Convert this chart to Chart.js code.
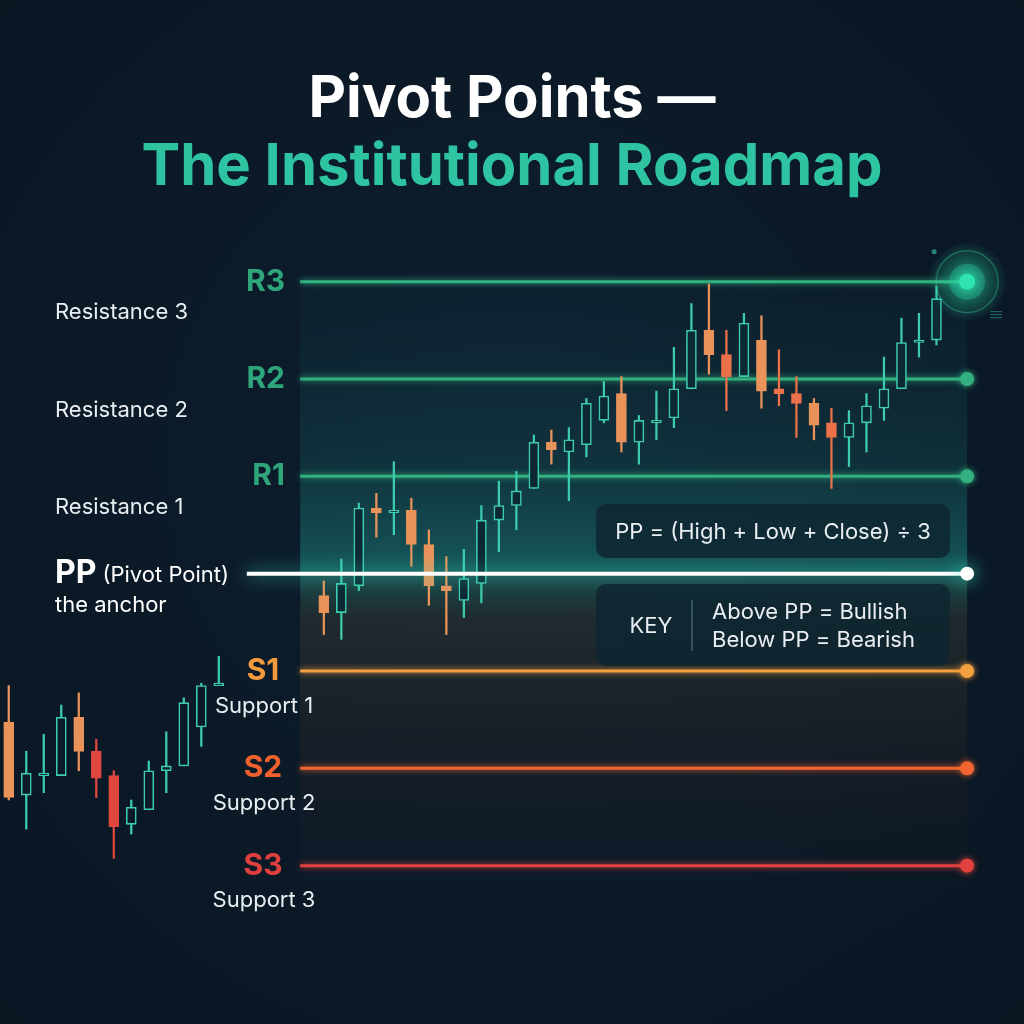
<!DOCTYPE html>
<html>
<head>
<meta charset="utf-8">
<script src="https://cdn.jsdelivr.net/npm/chart.js@4.4.1/dist/chart.umd.min.js"></script>
<style>
  html, body { margin: 0; padding: 0; background: #0b1828; }
</style>
</head>
<body>
<canvas id="pivotChart" width="1024" height="1024"></canvas>
<script>
// pivot levels
const levelNames = ['R3', 'R2', 'R1', 'PP', 'S1', 'S2', 'S3'];
const levelValues = [112, 108, 104, 100, 96, 92, 88];
const levelCaptions = ['Resistance 3', 'Resistance 2', 'Resistance 1', '(Pivot Point)', 'Support 1', 'Support 2', 'Support 3'];
const levelColors = ['#33b07f', '#33b07f', '#33b07f', '#ffffff', '#f2a03e', '#f26530', '#e2423f'];
const labelColors = ['#2ea57a', '#2ea57a', '#2ea57a', '#ffffff', '#f29a3c', '#f0612e', '#de3f3d'];

// where the level lines run (candle slots)
const lineFrom = 16.65;
const pivotFrom = 13.6;
const lineTo = 54.75;

// candles: slot, open, high, low, close, tone
const candleSlot = [0, 1, 2, 3, 4, 5, 6, 7, 8, 9, 10, 11, 12,
  18, 19, 20, 21, 22, 23, 24, 25, 26, 27, 28, 29, 30, 31, 32, 33, 34, 35,
  36, 37, 38, 39, 40, 41, 42, 43, 44, 45, 46, 47, 48, 49, 50, 51, 52, 53];
const candleOpen = [93.9, 90.9, 91.7, 91.7, 94.1, 92.7, 91.7, 89.7, 90.3, 91.9, 92.1, 93.7, 95.4,
  99.1, 98.4, 99.5, 102.7, 102.5, 102.6, 101.2, 99.5, 98.9, 99.6, 102.2, 102.8, 103.5, 105.4, 105.0, 105.3,
  106.3, 107.4, 105.4, 106.2, 106.4, 107.6, 110.0, 109.0, 108.1, 109.6, 107.6, 107.4, 107.0, 106.2,
  105.6, 106.2, 106.8, 107.6, 109.5, 109.6];
const candleHigh = [95.4, 92.7, 93.4, 94.6, 95.1, 93.2, 91.9, 90.7, 92.3, 93.5, 94.9, 95.5, 96.6,
  99.7, 100.6, 102.9, 103.3, 104.6, 103.1, 101.8, 100.7, 101.0, 102.8, 103.8, 104.2, 105.7, 105.9, 106.0, 107.2,
  107.9, 108.1, 106.5, 107.5, 109.3, 111.1, 111.9, 110.0, 110.7, 110.6, 109.2, 108.1, 107.2, 106.8,
  106.7, 107.4, 108.9, 110.5, 110.7, 111.8];
const candleLow = [90.7, 89.5, 91.0, 91.7, 91.9, 90.8, 88.3, 89.3, 90.3, 91.0, 92.1, 92.9, 95.4,
  97.5, 97.3, 99.3, 101.5, 101.6, 100.3, 98.7, 97.5, 98.2, 98.8, 100.9, 101.8, 103.5, 104.5, 103.0, 104.8,
  106.2, 105.0, 104.5, 105.5, 106.0, 107.6, 108.2, 106.7, 108.1, 106.8, 106.9, 105.6, 105.5, 103.5,
  104.4, 105.0, 106.3, 107.6, 108.9, 109.4];
const candleClose = [90.8, 91.8, 91.8, 94.1, 92.7, 91.6, 89.6, 90.4, 91.9, 92.1, 94.7, 95.4, 95.5,
  98.4, 99.6, 102.7, 102.5, 102.6, 101.2, 99.5, 99.3, 99.8, 102.2, 102.8, 103.4, 105.4, 105.1, 105.5, 107.0,
  107.3, 105.4, 106.3, 106.3, 107.6, 110.0, 109.0, 108.1, 110.3, 107.5, 107.4, 107.0, 106.1, 105.6,
  106.2, 106.9, 107.6, 109.5, 109.6, 111.3];
const candleTone = ['amber', 'bull', 'bull', 'bull', 'amber', 'red', 'red', 'bull', 'bull', 'bull', 'bull', 'bull', 'bull',
  'amber', 'bull', 'bull', 'amber', 'bull', 'amber', 'amber', 'amber', 'bull', 'bull', 'bull', 'bull', 'bull', 'amber', 'bull', 'bull',
  'bull', 'amber', 'bull', 'bull', 'bull', 'bull', 'amber', 'coral', 'bull', 'amber', 'coral', 'coral', 'amber', 'coral',
  'bull', 'bull', 'bull', 'bull', 'bull', 'bull'];

const toneColor = { bull: '#3ccbad', amber: '#e9935a', coral: '#ea7149', red: '#e0473f' };

const bodyFill = candleTone.map((t, i) => t === 'bull' ? (candleSlot[i] < 14 ? '#0b1a2a' : '#0c2832') : toneColor[t]);
const toneOf = candleTone.map(t => toneColor[t]);

const pivotIndex = levelNames.indexOf('PP');

const levelSets = levelValues.map((v, i) => ({
  type: 'line',
  label: levelNames[i],
  data: [{ x: i === pivotIndex ? pivotFrom : lineFrom, y: v }, { x: lineTo, y: v }],
  borderColor: levelColors[i],
  borderWidth: i === pivotIndex ? 4 : 3,
  pointRadius: [0, i === 0 ? 0 : 7],
  pointBackgroundColor: i === pivotIndex ? '#ffffff' : levelColors[i],
  pointBorderWidth: 0,
  glow: i === pivotIndex ? 'rgba(60,230,200,0.9)' : levelColors[i],
  glowBlur: i === pivotIndex ? 18 : 6,
  order: i === pivotIndex ? 0 : 5
}));

const backdrop = {
  id: 'backdrop',
  beforeDraw(chart) {
    const { ctx, scales: { x, y } } = chart;
    ctx.save();
    const bg = ctx.createRadialGradient(512, 420, 50, 512, 512, 760);
    bg.addColorStop(0, '#0e1e2e');
    bg.addColorStop(1, '#091521');
    ctx.fillStyle = bg;
    ctx.fillRect(0, 0, chart.width, chart.height);

    const x0 = x.getPixelForValue(lineFrom);
    const x1 = x.getPixelForValue(lineTo);
    const yTop = y.getPixelForValue(levelValues[0]);
    const yPP = y.getPixelForValue(levelValues[pivotIndex]);
    const yBot = y.getPixelForValue(levelValues[6]) + 80;
    let g = ctx.createLinearGradient(0, yTop, 0, yPP);
    g.addColorStop(0, 'rgba(18,60,70,0.12)');
    g.addColorStop(0.6, 'rgba(20,90,92,0.33)');
    g.addColorStop(1, 'rgba(30,140,130,0.55)');
    ctx.fillStyle = g;
    ctx.fillRect(x0, yTop, x1 - x0, yPP - yTop);
    g = ctx.createLinearGradient(0, yPP, 0, yBot);
    g.addColorStop(0, 'rgba(35,110,100,0.55)');
    g.addColorStop(0.12, 'rgba(45,52,50,0.6)');
    g.addColorStop(0.45, 'rgba(36,34,38,0.5)');
    g.addColorStop(1, 'rgba(12,24,38,0)');
    ctx.fillStyle = g;
    ctx.fillRect(x0, yPP, x1 - x0, yBot - yPP);
    ctx.restore();
  },
  beforeDatasetDraw(chart, args) {
    const ds = chart.data.datasets[args.index];
    if (!ds.glow) return;
    chart.ctx.save();
    chart.ctx.shadowColor = ds.glow;
    chart.ctx.shadowBlur = ds.glowBlur;
  },
  afterDatasetDraw(chart, args) {
    if (chart.data.datasets[args.index].glow) chart.ctx.restore();
  }
};

function roundBox(ctx, x, y, w, h, r) {
  ctx.beginPath();
  ctx.moveTo(x + r, y);
  ctx.arcTo(x + w, y, x + w, y + h, r);
  ctx.arcTo(x + w, y + h, x, y + h, r);
  ctx.arcTo(x, y + h, x, y, r);
  ctx.arcTo(x, y, x + w, y, r);
  ctx.closePath();
}

const annotations = {
  id: 'annotations',
  afterDraw(chart) {
    const { ctx, scales: { x, y } } = chart;
    const font = '"Inter", "Noto Sans", sans-serif';
    ctx.save();
    ctx.textBaseline = 'middle';

    // title
    ctx.textAlign = 'center';
    ctx.font = '700 58px ' + font;
    ctx.fillStyle = '#ffffff';
    ctx.fillText('Pivot Points \u2014', 512, 100);
    ctx.fillStyle = '#2ec4a2';
    ctx.fillText('The Institutional Roadmap', 512, 168);

    // R3 halo
    const hx = x.getPixelForValue(lineTo);
    const hy = y.getPixelForValue(levelValues[0]);
    const halo = ctx.createRadialGradient(hx, hy, 4, hx, hy, 40);
    halo.addColorStop(0, 'rgba(40,230,170,0.55)');
    halo.addColorStop(1, 'rgba(40,230,170,0)');
    ctx.fillStyle = halo;
    ctx.beginPath(); ctx.arc(hx, hy, 40, 0, Math.PI * 2); ctx.fill();
    ctx.strokeStyle = 'rgba(60,210,170,0.35)';
    ctx.lineWidth = 1.5;
    ctx.beginPath(); ctx.arc(hx, hy, 31, 0, Math.PI * 2); ctx.stroke();
    ctx.fillStyle = 'rgba(40,200,160,0.35)';
    ctx.beginPath(); ctx.arc(hx, hy, 18, 0, Math.PI * 2); ctx.fill();
    ctx.shadowColor = '#2ee6b0'; ctx.shadowBlur = 12;
    ctx.fillStyle = '#2ee3ae';
    ctx.beginPath(); ctx.arc(hx, hy, 8, 0, Math.PI * 2); ctx.fill();
    ctx.shadowBlur = 0;
    ctx.fillStyle = 'rgba(60,210,170,0.6)';
    ctx.beginPath(); ctx.arc(hx - 33, hy - 30, 2.5, 0, Math.PI * 2); ctx.fill();
    ctx.strokeStyle = 'rgba(60,210,170,0.5)';
    ctx.lineWidth = 1;
    for (let k = 0; k < 3; k++) {
      ctx.beginPath(); ctx.moveTo(hx + 23, hy + 30 + k * 3); ctx.lineTo(hx + 35, hy + 30 + k * 3); ctx.stroke();
    }

    // level labels
    levelNames.forEach((name, i) => {
      const ly = y.getPixelForValue(levelValues[i]);
      if (name.startsWith('R')) {
        ctx.textAlign = 'right';
        ctx.font = '700 30px ' + font;
        ctx.fillStyle = labelColors[i];
        ctx.fillText(name, 285, ly);
        ctx.textAlign = 'left';
        ctx.font = '400 22px ' + font;
        ctx.fillStyle = '#e9eef2';
        ctx.fillText(levelCaptions[i], 55, ly + 31);
      } else if (name === 'PP') {
        ctx.textAlign = 'left';
        ctx.font = '700 32px ' + font;
        ctx.fillStyle = '#ffffff';
        ctx.fillText(name, 55, ly);
        const w = ctx.measureText(name).width;
        ctx.font = '400 22px ' + font;
        ctx.fillText(levelCaptions[i], 55 + w + 6, ly + 2);
        ctx.fillText('the anchor', 55, ly + 32);
      } else {
        ctx.textAlign = 'center';
        ctx.font = '700 30px ' + font;
        ctx.fillStyle = labelColors[i];
        ctx.fillText(name, 263, ly);
        ctx.font = '400 22px ' + font;
        ctx.fillStyle = '#e9eef2';
        ctx.fillText(levelCaptions[i], 264, ly + 35);
      }
    });

    // formula and key boxes
    ctx.fillStyle = 'rgba(14,38,48,0.85)';
    roundBox(ctx, 596, 504, 354, 54, 10); ctx.fill();
    roundBox(ctx, 596, 584, 354, 82, 10); ctx.fill();
    ctx.fillStyle = '#e9eef2';
    ctx.font = '400 22px ' + font;
    ctx.textAlign = 'center';
    ctx.fillText('PP = (High + Low + Close) \u00f7 3', 773, 532);
    ctx.fillText('KEY', 651, 626);
    ctx.strokeStyle = 'rgba(120,170,170,0.45)';
    ctx.lineWidth = 1.5;
    ctx.beginPath(); ctx.moveTo(692, 600); ctx.lineTo(692, 651); ctx.stroke();
    ctx.textAlign = 'left';
    ctx.fillText('Above PP = Bullish', 712, 612);
    ctx.fillText('Below PP = Bearish', 712, 640);
    ctx.restore();
  }
};

const ctx = document.getElementById('pivotChart').getContext('2d');
const pivotChart = new Chart(ctx, {
  type: 'bar',
  data: {
    datasets: [
      ...levelSets,
      {
        label: 'wicks',
        data: candleSlot.map((s, i) => ({ x: s, y: [candleLow[i], candleHigh[i]] })),
        backgroundColor: toneOf,
        barThickness: 1.6,
        grouped: false,
        order: 2
      },
      {
        label: 'bodies',
        data: candleSlot.map((s, i) => ({ x: s, y: [candleOpen[i], candleClose[i]] })),
        backgroundColor: bodyFill,
        borderColor: toneOf,
        borderWidth: 1.6,
        borderSkipped: false,
        barThickness: 10,
        grouped: false,
        order: 1
      }
    ]
  },
  options: {
    responsive: false,
    animation: false,
    layout: { autoPadding: false, padding: { top: 233, bottom: 61, left: 0, right: 0 } },
    scales: {
      x: { type: 'linear', min: -0.5, max: 58, offset: false, display: false },
      y: { type: 'linear', min: 84, max: 114, display: false }
    },
    plugins: {
      legend: { display: false },
      tooltip: { enabled: false }
    }
  },
  plugins: [backdrop, annotations]
});
</script>
</body>
</html>
